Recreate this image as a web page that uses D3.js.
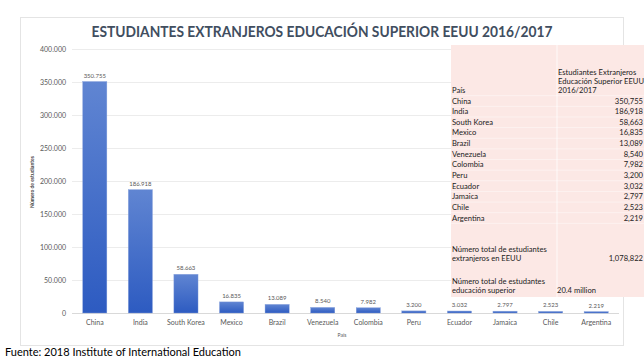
<!DOCTYPE html>
<html>
<head>
<meta charset="utf-8">
<script src="https://cdn.jsdelivr.net/npm/d3@7"></script>
<style>
  body { margin: 0; background: #fff; }
  svg { display: block; font-family: Lato, "Open Sans", sans-serif; }
</style>
</head>
<body>
<svg id="chart" width="644" height="362"></svg>
<script>
var countries = ["China", "India", "South Korea", "Mexico", "Brazil", "Venezuela", "Colombia", "Peru", "Ecuador", "Jamaica", "Chile", "Argentina"];
var students = [350755, 186918, 58663, 16835, 13089, 8540, 7982, 3200, 3032, 2797, 2523, 2219];
var yTicks = [0, 50000, 100000, 150000, 200000, 250000, 300000, 350000, 400000];
var tableHeader = ["Estudiantes Extranjeros", "Educación Superior EEUU", "2016/2017"];
var totalForeign = 1078822;
var totalHigherEd = "20.4 million";

var svg = d3.select("#chart");
var es = d3.formatLocale({decimal: ",", thousands: ".", grouping: [3], currency: ["", ""]});
var fmtEs = es.format(",");
var fmtEn = d3.format(",");

// chart frame
svg.append("rect")
  .attr("x", 20.5).attr("y", 17.5).attr("width", 603).attr("height", 328)
  .attr("fill", "#fff").attr("stroke", "#e4e4e4");

svg.append("text")
  .attr("x", 322).attr("y", 36.5)
  .attr("text-anchor", "middle")
  .attr("font-size", 15).attr("font-weight", "bold")
  .attr("fill", "#414e5f")
  .attr("textLength", 461).attr("lengthAdjust", "spacingAndGlyphs")
  .text("ESTUDIANTES EXTRANJEROS EDUCACIÓN SUPERIOR EEUU 2016/2017");

var x = d3.scaleBand().domain(countries).range([72, 619]).paddingInner(0.47).paddingOuter(0.235);
var y = d3.scaleLinear().domain([0, 400000]).range([313, 49]);

var defs = svg.append("defs");
var grad = defs.append("linearGradient").attr("id", "barGrad")
  .attr("x1", 0).attr("y1", 0).attr("x2", 0).attr("y2", 1);
grad.append("stop").attr("offset", "0%").attr("stop-color", "#6085d2");
grad.append("stop").attr("offset", "100%").attr("stop-color", "#2d5bc1");

// gridlines
svg.append("g").selectAll("line")
  .data(yTicks)
  .enter().append("line")
  .attr("x1", 72).attr("x2", 619)
  .attr("y1", function (d) { return Math.round(y(d)) + 0.5; })
  .attr("y2", function (d) { return Math.round(y(d)) + 0.5; })
  .attr("stroke", function (d) { return d === 0 ? "#d9d9d9" : "#ececec"; })
  .attr("stroke-width", 1);

// y axis labels
var yAxis = svg.append("g")
  .attr("transform", "translate(66,0)")
  .call(d3.axisLeft(y).tickValues(yTicks).tickSize(0).tickPadding(0).tickFormat(fmtEs));
yAxis.select(".domain").remove();
yAxis.selectAll("text").attr("font-size", 7).attr("fill", "#595959").attr("font-family", "Lato, sans-serif");

svg.append("text")
  .attr("transform", "translate(34,182) rotate(-90)")
  .attr("text-anchor", "middle")
  .attr("font-size", 5).attr("font-weight", "bold").attr("fill", "#404040")
  .text("Número de estudiantes");

// bars
svg.append("g").selectAll("rect")
  .data(students)
  .enter().append("rect")
  .attr("x", function (d, i) { return x(countries[i]); })
  .attr("width", x.bandwidth())
  .attr("y", function (d) { return y(d); })
  .attr("height", function (d) { return Math.max(1.5, y(0) - y(d)); })
  .attr("fill", "url(#barGrad)")
  .attr("stroke", "#8aa4dd").attr("stroke-width", 0.4);

svg.append("g").selectAll("text")
  .data(students)
  .enter().append("text")
  .attr("x", function (d, i) { return x(countries[i]) + x.bandwidth() / 2; })
  .attr("y", function (d) { return y(d) - 4; })
  .attr("text-anchor", "middle")
  .attr("font-size", 6).attr("fill", "#595959")
  .text(function (d) { return fmtEs(d); });

// x axis labels
var xAxis = svg.append("g")
  .attr("transform", "translate(0,320)")
  .call(d3.axisBottom(x).tickSize(0).tickPadding(0));
xAxis.select(".domain").remove();
xAxis.selectAll("text").attr("font-size", 7).attr("fill", "#595959").attr("font-family", "Lato, sans-serif");

svg.append("text")
  .attr("x", 342).attr("y", 337)
  .attr("text-anchor", "middle")
  .attr("font-size", 5).attr("fill", "#595959")
  .text("País");

// table overlay
var tbl = svg.append("g");
tbl.append("rect")
  .attr("x", 451).attr("y", 45).attr("width", 193).attr("height", 252)
  .attr("fill", "#fce8e5");

var rowY = d3.scaleLinear().domain([0, countries.length - 1]).range([101, 218]);

tbl.selectAll(".rowline")
  .data(d3.range(countries.length + 1))
  .enter().append("line")
  .attr("x1", 451).attr("x2", 644)
  .attr("y1", function (i) { return rowY(i) - 5.3; })
  .attr("y2", function (i) { return rowY(i) - 5.3; })
  .attr("stroke", "#fff").attr("stroke-width", 0.6).attr("stroke-opacity", 0.7);

tbl.append("line")
  .attr("x1", 557).attr("x2", 557).attr("y1", 45).attr("y2", 297)
  .attr("stroke", "#fff").attr("stroke-width", 0.8);

var tfont = 7.6;
tbl.selectAll(".hdr")
  .data(tableHeader)
  .enter().append("text")
  .attr("x", 558).attr("y", function (d, i) { return 74.5 + i * 9; })
  .attr("font-size", tfont).attr("fill", "#222")
  .text(function (d) { return d; });

tbl.append("text")
  .attr("x", 452).attr("y", 92.5)
  .attr("font-size", tfont).attr("fill", "#222")
  .text("País");

tbl.selectAll(".cname")
  .data(countries)
  .enter().append("text")
  .attr("x", 452).attr("y", function (d, i) { return rowY(i) + 2.5; })
  .attr("font-size", tfont).attr("fill", "#222")
  .text(function (d) { return d; });

tbl.selectAll(".cval")
  .data(students)
  .enter().append("text")
  .attr("x", 643).attr("y", function (d, i) { return rowY(i) + 2.5; })
  .attr("text-anchor", "end")
  .attr("font-size", tfont).attr("fill", "#222")
  .text(function (d) { return fmtEn(d); });

tbl.append("text").attr("x", 452).attr("y", 251.5)
  .attr("font-size", tfont).attr("fill", "#222").text("Número  total de estudiantes");
tbl.append("text").attr("x", 452).attr("y", 260.5)
  .attr("font-size", tfont).attr("fill", "#222").text("extranjeros en EEUU");
tbl.append("text").attr("x", 643).attr("y", 260.5).attr("text-anchor", "end")
  .attr("font-size", tfont).attr("fill", "#222").text(fmtEn(totalForeign));

tbl.append("text").attr("x", 452).attr("y", 283.5)
  .attr("font-size", tfont).attr("fill", "#222").text("Número  total de estudantes");
tbl.append("text").attr("x", 452).attr("y", 293)
  .attr("font-size", tfont).attr("fill", "#222").text("educación superior");
tbl.append("text").attr("x", 557).attr("y", 293)
  .attr("font-size", tfont).attr("fill", "#222").text(totalHigherEd);

// source
svg.append("text")
  .attr("x", 5).attr("y", 356)
  .attr("font-size", 11).attr("fill", "#000")
  .text("Fuente: 2018 Institute of International Education");
</script>
</body>
</html>
